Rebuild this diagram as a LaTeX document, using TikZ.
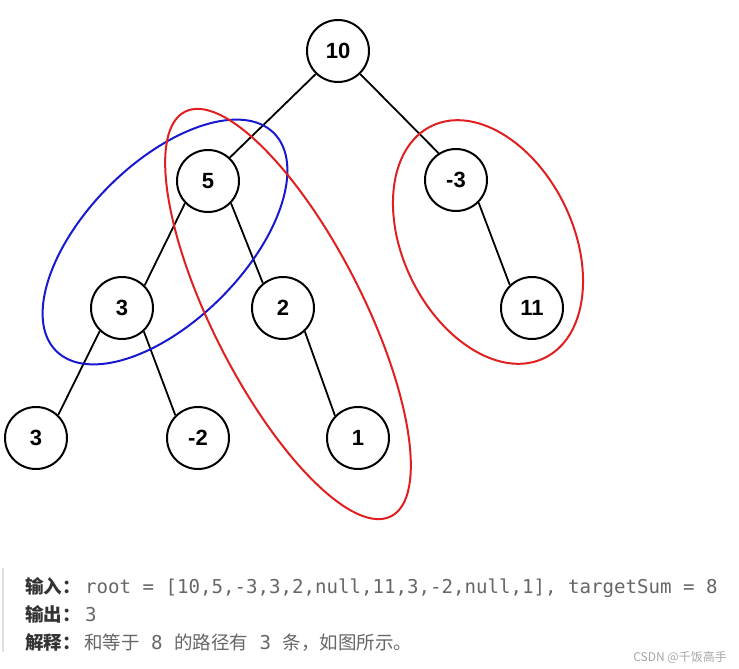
\documentclass[tikz,border=0pt]{standalone}
\usepackage{fontspec}
\setmainfont{Liberation Sans}
\newfontfamily\cjk{Noto Sans CJK SC}
\newfontfamily\mono{DejaVu Sans Mono}
\definecolor{lab}{HTML}{333333}
\definecolor{txt}{HTML}{666666}
\definecolor{ringred}{HTML}{E02020}
\definecolor{ringblue}{HTML}{1818D0}
\begin{document}
\begin{tikzpicture}[x=1pt,y=1pt,
  tn/.style={circle,draw,line width=2pt,minimum size=62pt,inner sep=0pt,font=\fontsize{22}{22}\selectfont\bfseries},
  edge/.style={line width=1.8pt},
  ring/.style={line width=2pt},
  lbl/.style={anchor=base west,inner sep=0pt,font=\cjk\fontsize{18.5}{18.5}\selectfont\bfseries,text=lab},
  body/.style={anchor=base west,inner sep=0pt,font=\mono\fontsize{19.1}{19.1}\selectfont,text=txt},
]
\useasboundingbox (0,0) rectangle (739,-669);
% tree nodes
\node[tn] (n10) at (338,-51) {10};
\node[tn] (n5) at (208,-181) {5};
\node[tn] (nm3) at (456,-180) {-3};
\node[tn] (n3a) at (122,-308) {3};
\node[tn] (n2) at (283,-308) {2};
\node[tn] (n11) at (532,-308) {11};
\node[tn] (n3b) at (36,-438) {3};
\node[tn] (nm2) at (198,-438) {-2};
\node[tn] (n1) at (358,-438) {1};
% edges
\draw[edge] (n10.-134) -- (n5.47);
\draw[edge] (n10.-46) -- (nm3.123);
\draw[edge] (n5.-136) -- (n3a.45);
\draw[edge] (n5.-44) -- (n2.129);
\draw[edge] (n3a.-134) -- (n3b.46);
\draw[edge] (n3a.-47) -- (nm2.135);
\draw[edge] (n2.-47) -- (n1.136);
\draw[edge] (nm3.-45) -- (n11.134);
% path ellipses
\draw[ring,ringblue,rotate around={45:(165,-242)}] (165,-242) ellipse [x radius=154,y radius=79];
\draw[ring,ringred,rotate around={-63:(288,-314)}] (288,-314) ellipse [x radius=227,y radius=75];
\draw[ring,ringred,rotate around={-64:(488,-242)}] (488,-242) ellipse [x radius=129,y radius=85];
% text block
\draw[line width=2pt,black!12] (3,-568) -- (3,-652);
\node[lbl] (l1) at (25,-593) {输入：};
\node[body] (t1) at (85,-593) {root = [10,5,-3,3,2,null,11,3,-2,null,1], targetSum = 8};
\node[lbl] (l2) at (25,-621) {输出：};
\node[body] (t2) at (85,-621) {3};
\node[lbl] (l3) at (25,-649) {解释：};
\node[body] (t3) at (84,-649) {{\cjk\fontsize{18.5}{18.5}\selectfont 和等于} 8 {\cjk\fontsize{18.5}{18.5}\selectfont 的路径有} 3 {\cjk\fontsize{18.5}{18.5}\selectfont 条，如图所示。}};
\node[anchor=east,inner sep=0pt,font=\cjk\fontsize{12}{12}\selectfont,text=black!35] (wm) at (727,-657) {CSDN @千饭高手};
\end{tikzpicture}
\end{document}
